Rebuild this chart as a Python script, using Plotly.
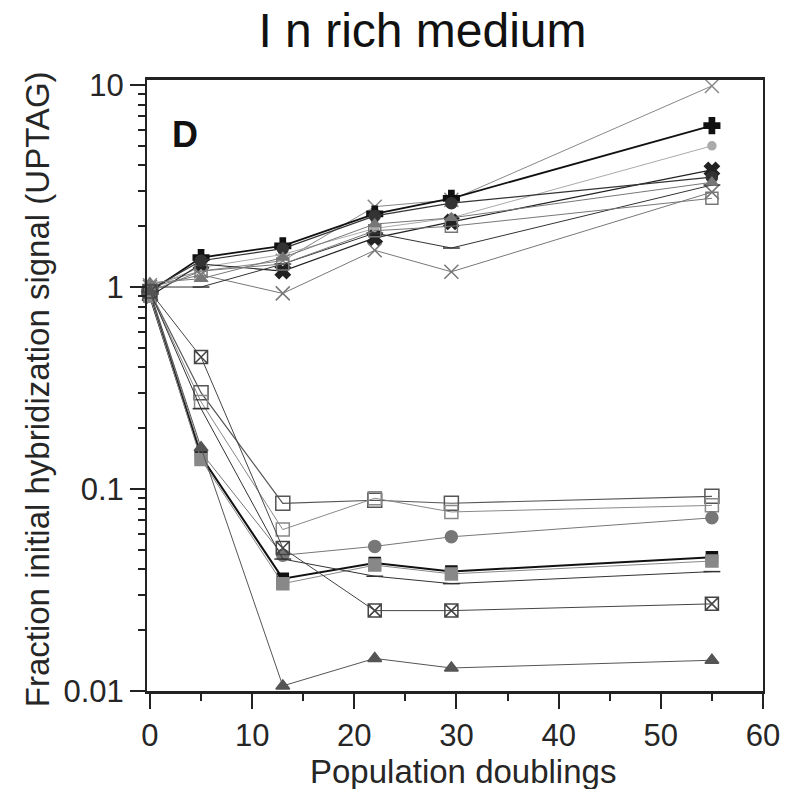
import plotly.graph_objects as go

# Population doublings
x_vals = [0, 5, 13, 22, 29.5, 55]

# Upper group (increasing tags)
up_xthin = [1.02, 1.20, 1.35, 2.50, 2.70, 9.9]
up_plus = [0.95, 1.40, 1.60, 2.30, 2.75, 6.3]
up_dot = [1.00, 1.25, 1.45, 1.95, 2.20, 5.0]
up_boldx = [0.90, 1.30, 1.20, 1.75, 2.10, 3.8]
up_xdip = [1.00, 1.15, 0.93, 1.52, 1.19, 2.95]
up_dash = [1.00, 1.00, 1.30, 1.85, 1.56, 3.2]
up_square = [0.95, 1.20, 1.30, 1.90, 2.00, 2.75]
up_circle = [0.97, 1.35, 1.55, 2.25, 2.60, 3.5]
up_tri = [1.05, 1.10, 1.40, 2.05, 2.20, 3.3]

# Lower group (decreasing tags)
lo_sq1 = [0.95, 0.30, 0.085, 0.088, 0.085, 0.092]
lo_sq2 = [0.95, 0.27, 0.063, 0.090, 0.077, 0.083]
lo_circ = [0.95, 0.152, 0.047, 0.052, 0.058, 0.072]
lo_blk = [0.90, 0.145, 0.036, 0.043, 0.039, 0.046]
lo_gsq = [0.90, 0.14, 0.034, 0.042, 0.038, 0.044]
lo_dash = [0.95, 0.25, 0.045, 0.037, 0.034, 0.039]
lo_xsq = [0.95, 0.45, 0.051, 0.025, 0.025, 0.027]
lo_tri = [0.95, 0.16, 0.0106, 0.0145, 0.013, 0.0142]

series = [
    (up_xthin, "x-thin-open", "#888888", 1.0, 14),
    (up_plus, "cross", "#111111", 1.8, 13),
    (up_dot, "circle", "#aaaaaa", 1.0, 8),
    (up_boldx, "x", "#222222", 1.2, 13),
    (up_xdip, "x-thin-open", "#777777", 1.0, 14),
    (up_dash, "line-ew-open", "#333333", 1.0, 12),
    (up_square, "square-open", "#777777", 1.0, 12),
    (up_circle, "circle", "#333333", 1.2, 11),
    (up_tri, "triangle-up", "#777777", 1.0, 10),
    (lo_sq1, "square-open", "#555555", 1.2, 14),
    (lo_sq2, "square-open", "#888888", 1.0, 13),
    (lo_circ, "circle", "#777777", 1.0, 12),
    (lo_blk, "square", "#111111", 2.0, 11),
    (lo_gsq, "square", "#888888", 1.0, 12),
    (lo_dash, "line-ew-open", "#333333", 1.0, 12),
    (lo_xsq, "square-x-open", "#444444", 1.0, 13),
    (lo_tri, "triangle-up", "#555555", 1.0, 12),
]

fig = go.Figure()
for ys, sym, col, lw, ms in series:
    fig.add_trace(go.Scatter(
        x=x_vals, y=ys, mode="lines+markers",
        line=dict(color=col, width=lw),
        marker=dict(symbol=sym, size=ms, color=col,
                    line=dict(color=col, width=1.5)),
        showlegend=False, cliponaxis=False,
    ))

x_ticks = [0, 10, 20, 30, 40, 50, 60]
y_major = [0.01, 0.1, 1, 10]
y_major_text = ["0.01", "0.1", "1", "10"]
y_minor = [m * 10 ** e for e in (-2, -1, 0) for m in range(2, 10)]

txt = "#262626"
fig.update_layout(
    width=792, height=789,
    margin=dict(l=147, r=22, t=80, b=98),
    paper_bgcolor="white", plot_bgcolor="white",
    title=dict(text="I n rich medium", x=422.5 / 792, xanchor="center", y=1 - 30.5 / 789, yanchor="middle",
               xref="container", yref="container",
               font=dict(family="Liberation Sans, Arial", size=48, color="#111111")),
    font=dict(family="Liberation Sans, Arial, Helvetica", color=txt),
    xaxis=dict(
        range=[-0.29, 60], tickvals=x_ticks,
        ticks="outside", ticklen=15, tickwidth=1.5, tickcolor="#222",
        minor=dict(tickvals=[5, 15, 25, 35, 45, 55], ticks="outside", ticklen=7, tickcolor="#222"),
        showline=True, linecolor="#222", linewidth=2.5, mirror=True,
        showgrid=False, zeroline=False,
        tickfont=dict(size=31, color=txt),
    ),
    yaxis=dict(
        type="log", range=[-2, 1.025],
        tickvals=y_major, ticktext=y_major_text,
        ticks="outside", ticklen=15, tickwidth=1.5, tickcolor="#222",
        minor=dict(tickvals=y_minor, ticks="outside", ticklen=7, tickcolor="#222"),
        showline=True, linecolor="#222", linewidth=2, mirror=True,
        showgrid=False, zeroline=False,
        tickfont=dict(size=31, color=txt),
    ),
    annotations=[
        dict(text="<b>D</b>", x=0.061, y=0.91, xref="paper", yref="paper",
             xanchor="center", yanchor="middle",
             showarrow=False, font=dict(size=36, color="#111", family="Liberation Sans, Arial")),
        dict(text="Population doublings", x=(467 - 147) / 623, y=(691 - 771) / 611,
             xref="paper", yref="paper", xanchor="center", yanchor="middle",
             showarrow=False, font=dict(size=33, color=txt)),
        dict(text="Fraction initial hybridization signal (UPTAG)", x=36, y=389,
             xref="paper", yref="paper", textangle=-90,
             xanchor="center", yanchor="middle",
             showarrow=False, font=dict(size=33, color=txt)),
    ],
)
# convert pixel position of y-title to paper coordinates
fig.layout.annotations[2].x = (36 - 147) / 623
fig.layout.annotations[2].y = (691 - 389) / 611

fig.write_html("out.html")
